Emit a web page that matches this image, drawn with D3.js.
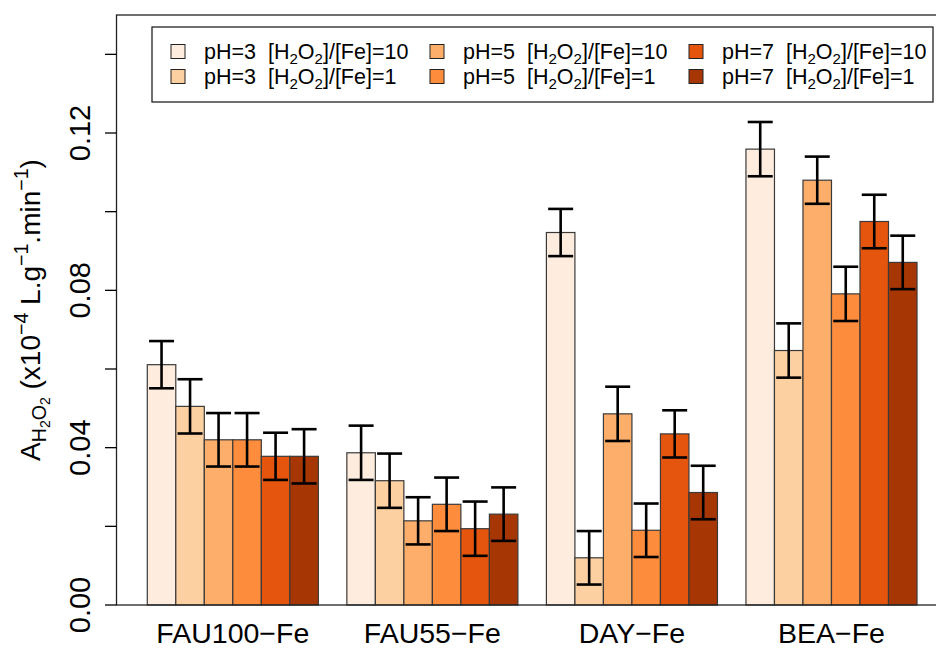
<!DOCTYPE html>
<html><head><meta charset="utf-8">
<script src="https://cdn.jsdelivr.net/npm/d3@7"></script>
<style>body{margin:0;background:#fff}svg{display:block}text{font-family:"Liberation Sans",Arial,sans-serif;white-space:pre}</style>
</head><body>
<script>
const categories = ["FAU100\u2212Fe","FAU55\u2212Fe","DAY\u2212Fe","BEA\u2212Fe"];
const seriesPH = ["3","3","5","5","7","7"];
const seriesRatio = ["10","1","10","1","10","1"];
const colors = ["#feedde","#fdd0a2","#fdae6b","#fd8d3c","#e6550d","#a63603"];
const s1 = [0.0611, 0.0387, 0.0947, 0.1159];
const s2 = [0.0505, 0.0316, 0.0120, 0.0647];
const s3 = [0.0420, 0.0214, 0.0486, 0.1080];
const s4 = [0.0420, 0.0256, 0.0190, 0.0791];
const s5 = [0.0378, 0.0194, 0.0435, 0.0975];
const s6 = [0.0378, 0.0231, 0.0286, 0.0871];
const e1 = [0.0060, 0.0069, 0.0060, 0.0069];
const e2 = [0.0069, 0.0069, 0.0068, 0.0069];
const e3 = [0.0068, 0.0060, 0.0069, 0.0060];
const e4 = [0.0068, 0.0068, 0.0068, 0.0069];
const e5 = [0.0060, 0.0069, 0.0060, 0.0068];
const e6 = [0.0069, 0.0068, 0.0068, 0.0068];
const yTicks = [0, 0.02, 0.04, 0.06, 0.08, 0.10, 0.12, 0.14];
const yLabels = [0, 0.04, 0.08, 0.12];

const series = [s1,s2,s3,s4,s5,s6];
const errs = [e1,e2,e3,e4,e5,e6];

const W = 936, H = 648;
const svg = d3.select("body").append("svg").attr("width", W).attr("height", H);

const x = d3.scaleLinear().domain([-0.08, 29.08]).range([116.5, 947.8]);
const y = d3.scaleLinear().domain([0, 0.15]).range([605, 15]);
const nS = series.length;
const unitLeft = (g, i) => 1 + g * (nS + 1) + i;

// bars
const bars = [];
series.forEach((s, i) => s.forEach((v, g) => bars.push({g, i, v, e: errs[i][g]})));
svg.append("g").selectAll("rect").data(bars).join("rect")
  .attr("x", d => x(unitLeft(d.g, d.i)))
  .attr("width", d => x(unitLeft(d.g, d.i) + 1) - x(unitLeft(d.g, d.i)))
  .attr("y", d => y(d.v))
  .attr("height", d => y(0) - y(d.v))
  .attr("fill", d => colors[d.i])
  .attr("stroke", "#3a3a3a").attr("stroke-width", 1.2);

// error bars
const eg = svg.append("g").attr("stroke", "#000").attr("stroke-width", 2.6).attr("fill", "none");
bars.forEach(d => {
  const cx = x(unitLeft(d.g, d.i) + 0.5);
  const hw = 12.5;
  eg.append("line").attr("x1", cx).attr("x2", cx).attr("y1", y(d.v + d.e)).attr("y2", y(d.v - d.e));
  eg.append("line").attr("x1", cx - hw).attr("x2", cx + hw).attr("y1", y(d.v + d.e)).attr("y2", y(d.v + d.e));
  eg.append("line").attr("x1", cx - hw).attr("x2", cx + hw).attr("y1", y(d.v - d.e)).attr("y2", y(d.v - d.e));
});

// box
svg.append("rect").attr("x", x(-0.08)).attr("y", 15).attr("width", x(29.08) - x(-0.08)).attr("height", 590)
  .attr("fill", "none").attr("stroke", "#222").attr("stroke-width", 1.3);

// y axis
const ya = svg.append("g");
ya.selectAll("line").data(yTicks).join("line")
  .attr("x1", 105).attr("x2", x(-0.08)).attr("y1", d => y(d)).attr("y2", d => y(d))
  .attr("stroke", "#000").attr("stroke-width", 1.3);
ya.selectAll("text").data(yLabels).join("text")
  .attr("transform", d => `translate(90,${y(d)}) rotate(-90)`)
  .attr("text-anchor", "middle").attr("font-size", 29).attr("fill", "#000")
  .text(d => d3.format(".2f")(d));

// x labels
svg.append("g").selectAll("text").data(categories).join("text")
  .attr("x", (d, g) => x(unitLeft(g, 0) + nS / 2))
  .attr("y", 643).attr("text-anchor", "middle").attr("font-size", 28.5).attr("fill", "#000")
  .text(d => d);

// rich text helper
function rich(sel, parts, base) {
  let cur = 0;
  parts.forEach(p => {
    const off = p.off || 0;
    sel.append("tspan").attr("dy", off - cur).attr("font-size", base * (p.s || 1)).text(p.t);
    cur = off;
  });
}

// y title
const yt = svg.append("text").attr("transform", "translate(40,310) rotate(-90)")
  .attr("text-anchor", "middle").attr("font-size", 28).attr("fill", "#000");
rich(yt, [
  {t: "A"},
  {t: "H", s: 0.7, off: 6},
  {t: "2", s: 0.5, off: 10},
  {t: "O", s: 0.7, off: 6},
  {t: "2", s: 0.5, off: 10},
  {t: " (x10", off: 0},
  {t: "\u22124", s: 0.7, off: -12},
  {t: " L.g", off: 0},
  {t: "\u22121", s: 0.7, off: -12},
  {t: ".min", off: 0},
  {t: "\u22121", s: 0.7, off: -12},
  {t: ")", off: 0}
], 28);

// legend
svg.append("rect").attr("x", 152).attr("y", 27).attr("width", 781).attr("height", 75)
  .attr("fill", "#fff").attr("stroke", "#222").attr("stroke-width", 1.3);
const colX = [171, 430, 689];
const rowY = [51.5, 76.5];
series.forEach((s, i) => {
  const c = Math.floor(i / 2), r = i % 2;
  svg.append("rect").attr("x", colX[c]).attr("y", rowY[r] - 7).attr("width", 14).attr("height", 14)
    .attr("fill", colors[i]).attr("stroke", "#222").attr("stroke-width", 1);
  const t = svg.append("text").attr("x", colX[c] + 33).attr("y", rowY[r] + 7.5)
    .attr("font-size", 21.5).attr("fill", "#000");
  rich(t, [
    {t: `pH=${seriesPH[i]}  [H`},
    {t: "2", s: 0.7, off: 5},
    {t: "O", off: 0},
    {t: "2", s: 0.7, off: 5},
    {t: `]/[Fe]=${seriesRatio[i]}`, off: 0}
  ], 21.5);
});
</script>
</body></html>
